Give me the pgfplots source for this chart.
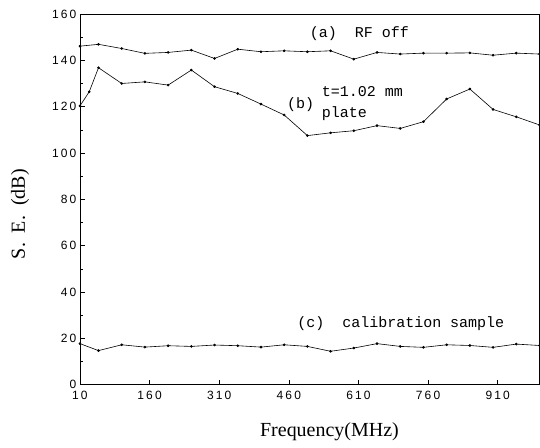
\documentclass[border=0pt]{standalone}
\usepackage{fontspec}
\usepackage{pgfplots}
\pgfplotsset{compat=1.18}
\setmainfont{Liberation Serif}
\newfontfamily\tickfont[LetterSpace=18]{Liberation Sans}
\newfontfamily\annfont{Liberation Mono}
\begin{document}
\begin{tikzpicture}
\begin{axis}[
  scale only axis, width=460pt, height=371pt,
  xmin=10, xmax=1000, ymin=0, ymax=160,
  xtick={10,160,310,460,610,760,910},
  ytick={0,20,...,160},
  minor ytick={10,30,...,150},
  tick align=inside, xtick pos=bottom, ytick pos=left,
  major tick length=5pt, minor tick length=3pt,
  tick style={black, line width=0.5pt},
  axis line style={line width=0.6pt},
  /pgf/number format/assume math mode=true,
  ticklabel style={font=\tickfont\fontsize{12}{14}\selectfont},
  xticklabel style={yshift=-3pt},
  label style={font=\fontsize{20}{22}\selectfont},
  xlabel={Frequency(MHz)},
  ylabel={S.\ \ E.\ \ (dB)},
  xlabel style={at={(axis description cs:0.543,-0.127)}, anchor=center},
  ylabel style={at={(axis description cs:-0.13,0.46)}, anchor=center, rotate=0},
  clip=false,
]
% (a) RF off
\addplot[black, line width=0.6pt, mark=*, mark size=1pt] coordinates {
(10,146.1)(50,146.9)(100,145.1)(150,143)(200,143.4)(250,144.4)(300,140.8)
(350,144.8)(400,143.7)(450,144.1)(500,143.7)(550,144.1)(600,140.5)(650,143.4)
(700,142.7)(750,143.1)(800,143.1)(850,143.2)(900,142.2)(950,143.1)(1000,142.7)};
% (b) plate
\addplot[black, line width=0.6pt, mark=*, mark size=1pt] coordinates {
(10,120.3)(30,126.4)(50,136.8)(100,130)(150,130.7)(200,129.3)(250,135.8)
(300,128.6)(350,125.7)(400,121.1)(450,116.4)(500,107.5)(550,108.7)(600,109.6)
(650,111.8)(700,110.6)(750,113.5)(800,123.3)(850,127.6)(900,118.8)(950,115.6)(1000,112.1)};
% (c) calibration sample
\addplot[black, line width=0.6pt, mark=*, mark size=1pt] coordinates {
(10,17.7)(50,14.7)(100,17.2)(150,16.2)(200,16.8)(250,16.5)(300,17.1)
(350,16.8)(400,16.2)(450,17.2)(500,16.5)(550,14.4)(600,15.8)(650,17.7)
(700,16.5)(750,16.1)(800,17.2)(850,16.9)(900,16.1)(950,17.5)(1000,16.9)};
\node[anchor=west, font=\annfont\fontsize{15}{17}\selectfont, inner sep=0pt] at (axis cs:505,151.7) {(a)\ \ RF off};
\node[anchor=west, font=\annfont\fontsize{15}{17}\selectfont, inner sep=0pt] at (axis cs:531,126.3) {t=1.02 mm};
\node[anchor=west, font=\annfont\fontsize{15}{17}\selectfont, inner sep=0pt] at (axis cs:456,121) {(b)};
\node[anchor=west, font=\annfont\fontsize{15}{17}\selectfont, inner sep=0pt] at (axis cs:531,117) {plate};
\node[anchor=west, font=\annfont\fontsize{15}{17}\selectfont, inner sep=0pt] at (axis cs:478,26.3) {(c)\ \ calibration sample};
\end{axis}
\pgfresetboundingbox
\path (current axis.south west) ++(-80pt,-63pt) coordinate (BL);
\path (current axis.north east) ++(0.5pt,14pt) coordinate (TR);
\path[use as bounding box] (BL) rectangle (TR);
\end{tikzpicture}
\end{document}
